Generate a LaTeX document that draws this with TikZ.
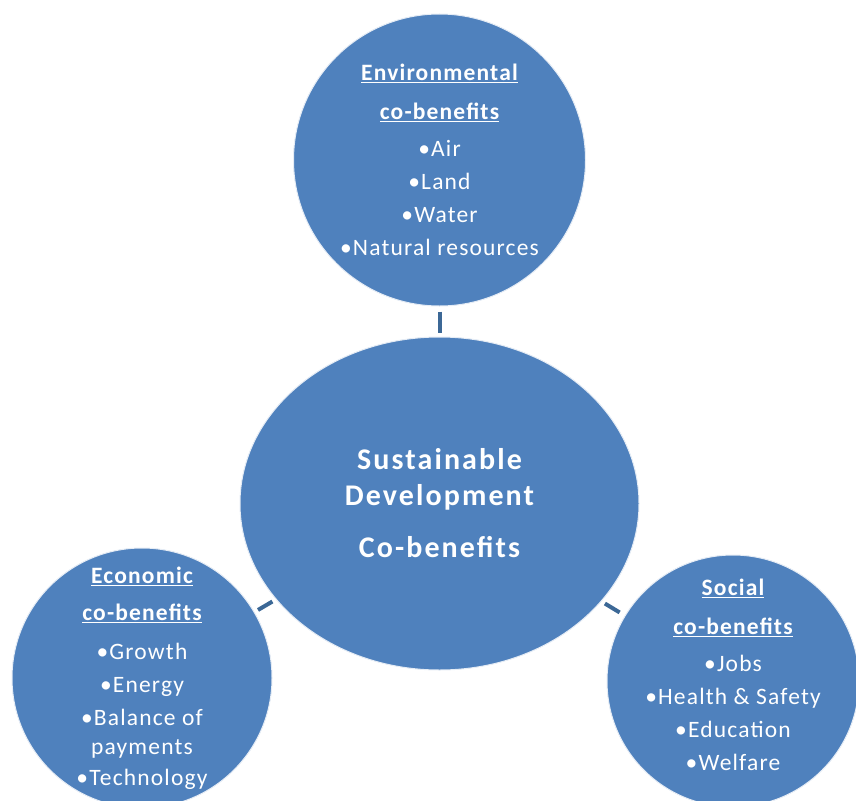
\documentclass[tikz,border=0pt]{standalone}
\usepackage{fontspec}
\setmainfont{Carlito}
\usetikzlibrary{shapes.geometric}

\definecolor{sdblue}{HTML}{4F81BD}
\definecolor{sdlink}{HTML}{3C6896}

\newcommand{\cbhead}[1]{\textbf{\underline{#1}}}

\begin{document}
\begin{tikzpicture}[x=1pt, y=-1pt,
    every node/.style={text=white, align=center},
    benefit/.style={circle, fill=sdblue, draw=white!85!sdblue, line width=1pt, inner sep=0pt},
    items/.style={font=\fontsize{23.5}{33}\selectfont\addfontfeature{LetterSpace=5}},
    hub/.style={ellipse, fill=sdblue, draw=white!85!sdblue, line width=1pt, inner sep=0pt, minimum width=399pt, minimum height=333pt, font=\bfseries\fontsize{30}{36}\selectfont\addfontfeature{LetterSpace=7}},
    link/.style={draw=sdlink, line width=4pt}
]
\clip (0,0) rectangle (856,800);

% centre and the three satellites
\node[hub] (core) at (439.5,503.5) {Sustainable\\Development\\[16pt]Co-benefits};
\node[benefit, items, minimum size=292pt] (env) at (439.5,160)
  {\cbhead{Environmental}\\[6pt]\cbhead{co-benefits}\\[4pt]\textbullet Air\\\textbullet Land\\\textbullet Water\\\textbullet Natural resources};
\node[benefit, items, minimum size=260pt] (econ) at (142,678)
  {\cbhead{Economic}\\[4pt]\cbhead{co-benefits}\\[6pt]\textbullet Growth\\\textbullet Energy\\\textbullet Balance of\\[-4pt]payments\\[-2pt]\textbullet Technology};
\node[benefit, minimum size=252pt] (social) at (733,681) {};
\node[items] (socialtext) at ([yshift=6pt]social.center)
  {\cbhead{Social}\\[6pt]\cbhead{co-benefits}\\[4pt]\textbullet Jobs\\\textbullet Health \& Safety\\\textbullet Education\\\textbullet Welfare};

% short links
\draw[link, shorten <=5pt, shorten >=4pt] (env) -- (core);
\draw[link, shorten <=4pt, shorten >=4pt] (econ) -- (core);
\draw[link, shorten <=6pt, shorten >=4pt] (social) -- (core);
\end{tikzpicture}
\end{document}
